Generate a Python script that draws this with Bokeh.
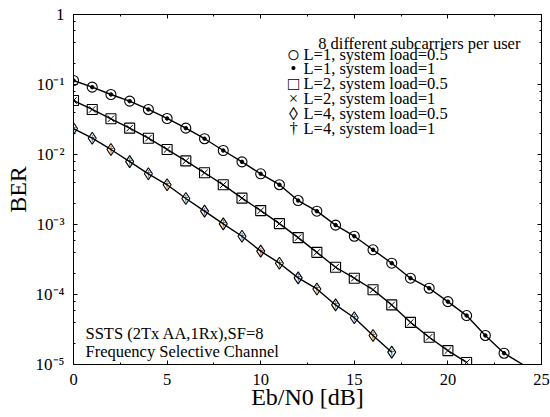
from bokeh.plotting import figure
from bokeh.models import (LinearAxis, LogAxis, Label,
                          CustomJSTickFormatter, SingleIntervalTicker, LogTicker,
                          Range1d, ColumnDataSource)
from bokeh.core.properties import value
from bokeh.embed import file_html
from bokeh.resources import INLINE

FONT = "Liberation Serif"

# ---------------- data ----------------
ebn0_L1 = list(range(0, 24))
ber_L1_load05 = [0.114, 0.0916, 0.072, 0.0578, 0.044, 0.0327, 0.0238, 0.0168,
                 0.0114, 0.00785, 0.0053, 0.0037, 0.0022, 0.00155, 9.8e-4, 6.8e-4,
                 4.35e-4, 2.8e-4, 1.71e-4, 1.23e-4, 7.9e-5, 5.0e-5, 2.6e-5, 1.45e-5]
ber_L1_load1 = list(ber_L1_load05)
ebn0_L1_curve = ebn0_L1 + [24]
ber_L1_curve = ber_L1_load05 + [1.0e-5]

ebn0_L2 = list(range(0, 22))
ber_L2_load05 = [0.059, 0.044, 0.0324, 0.0238, 0.0171, 0.0118, 0.0081, 0.00548,
                 0.00369, 0.00238, 0.00158, 1.03e-3, 6.5e-4, 4.0e-4, 2.45e-4,
                 1.71e-4, 1.17e-4, 7.1e-5, 4.0e-5, 2.45e-5, 1.58e-5, 1.07e-5]
ber_L2_load1 = list(ber_L2_load05)

ebn0_L4 = list(range(0, 18))
ber_L4_load05 = [0.0235, 0.0171, 0.0118, 0.0079, 0.0053, 0.00369, 0.00235,
                 0.00155, 1.02e-3, 6.8e-4, 4.16e-4, 2.8e-4, 1.73e-4, 1.2e-4,
                 7.1e-5, 4.65e-5, 2.6e-5, 1.5e-5]
ber_L4_load1 = list(ber_L4_load05)

labels = ["L=1, system load=0.5", "L=1, system load=1",
          "L=2, system load=0.5", "L=2, system load=1",
          "L=4, system load=0.5", "L=4, system load=1"]
legend_symbols = ["\u25cb", "\u2022", "\u25a1", "\u00d7", "\u25ca", "\u2020"]
legend_symbol_sizes = ["23px", "16.5px", "18.5px", "16.5px", "18px", "16.5px"]
legend_title = "8 different subcarriers per user"
note_lines = ["SSTS (2Tx AA,1Rx),SF=8", "Frequency Selective Channel"]
x_label = "Eb/N0 [dB]"
y_label = "BER"

# ---------------- figure ----------------
p = figure(width=550, height=417, y_axis_type="log",
           x_range=Range1d(0, 25), y_range=Range1d(1e-5, 1),
           output_backend="svg", toolbar_location=None,
           min_border_left=73, min_border_right=9,
           min_border_top=14, min_border_bottom=53)
p.xgrid.visible = False
p.ygrid.visible = False
p.outline_line_color = "black"
p.outline_line_width = 1
p.background_fill_color = "white"
p.border_fill_color = "white"

sup_code = """
const e = Math.round(Math.log10(tick));
if (e === 0) return "1";
const sup = {"-":"\u207b","0":"\u2070","1":"\u00b9","2":"\u00b2","3":"\u00b3",
             "4":"\u2074","5":"\u2075","6":"\u2076","7":"\u2077","8":"\u2078","9":"\u2079"};
return "10" + String(e).split("").map(c => sup[c]).join("");
"""
blank = CustomJSTickFormatter(code='return "";')


def style_axis(ax):
    ax.axis_line_color = "black"
    ax.major_tick_in = 4
    ax.major_tick_out = 0
    ax.minor_tick_in = 2
    ax.minor_tick_out = 0
    ax.major_tick_line_color = "black"
    ax.minor_tick_line_color = "black"
    ax.major_label_text_font = FONT
    ax.major_label_text_font_size = "16.5px"
    ax.major_label_text_color = "black"
    ax.axis_label_text_font = FONT
    ax.axis_label_text_font_style = "normal"
    ax.axis_label_text_font_size = "24px"
    ax.axis_label_text_color = "black"


xa = p.xaxis[0]
xa.ticker = SingleIntervalTicker(interval=5, num_minor_ticks=2)
style_axis(xa)
xa.major_label_standoff = 9
xa.axis_label = x_label
xa.axis_label_standoff = -4

ya = p.yaxis[0]
ya.ticker = LogTicker(desired_num_ticks=6)
ya.formatter = CustomJSTickFormatter(code=sup_code)
style_axis(ya)
ya.major_label_text_font_size = "17px"
ya.major_label_standoff = 9
ya.axis_label = y_label
ya.axis_label_standoff = 2

top = LinearAxis(ticker=SingleIntervalTicker(interval=5, num_minor_ticks=2), formatter=blank)
style_axis(top)
top.major_label_standoff = 0
top.major_label_text_font_size = "0px"
p.add_layout(top, "above")
right = LogAxis(ticker=LogTicker(desired_num_ticks=6), formatter=blank)
style_axis(right)
right.major_label_standoff = 0
right.major_label_text_font_size = "0px"
p.add_layout(right, "right")

# ---------------- curves ----------------
LW = 1.4
p.line(ebn0_L1_curve, ber_L1_curve, line_color="black", line_width=LW)
p.line(ebn0_L2, ber_L2_load05, line_color="black", line_width=LW)
p.line(ebn0_L4, ber_L4_load05, line_color="black", line_width=LW)

p.scatter(ebn0_L1, ber_L1_load05, marker="circle", size=10,
          fill_alpha=0, line_color="black", line_width=1.1)
p.scatter(ebn0_L1, ber_L1_load1, marker="circle", size=3.5,
          fill_color="black", line_color="black")
p.scatter(ebn0_L2, ber_L2_load05, marker="square", size=10,
          fill_alpha=0, line_color="black", line_width=1.1)
p.scatter(ebn0_L2, ber_L2_load1, marker="x", size=9,
          line_color="black", line_width=1)
p.scatter(ebn0_L4, ber_L4_load05, marker="diamond", size=12,
          fill_alpha=0, line_color="black", line_width=1.1)
dag_src = ColumnDataSource(dict(x=ebn0_L4, y=ber_L4_load1,
                                t=["\u2020"] * len(ebn0_L4)))
p.text("x", "y", text="t", source=dag_src, text_align="center",
       text_baseline="middle", text_font=value(FONT),
       text_font_size="10px", text_color="black")

# ---------------- legend (text annotations, frame screen units) ----------------
SYM_X, TXT_X, ROW0_Y, ROW_H = 220, 230, 310.5, 14.95
for i, (s, fs, lab) in enumerate(zip(legend_symbols, legend_symbol_sizes, labels)):
    y = ROW0_Y - i * ROW_H
    p.add_layout(Label(x=SYM_X, y=y, x_units="screen", y_units="screen", text=s,
                       text_font=FONT, text_font_size=fs,
                       text_align="center", text_baseline="middle",
                       text_color="black"))
    p.add_layout(Label(x=TXT_X, y=y, x_units="screen", y_units="screen", text=lab,
                       text_font=FONT, text_font_size="16.5px",
                       text_align="left", text_baseline="middle",
                       text_color="black"))

p.add_layout(Label(x=244.7, y=320.7, x_units="screen", y_units="screen",
                   text=legend_title, text_font=FONT, text_font_size="16.5px",
                   text_baseline="alphabetic", text_color="black"))

p.add_layout(Label(x=12, y=31, x_units="screen", y_units="screen",
                   text=note_lines[0], text_font=FONT, text_font_size="16.5px",
                   text_baseline="alphabetic", text_color="black"))
p.add_layout(Label(x=12, y=13, x_units="screen", y_units="screen",
                   text=note_lines[1], text_font=FONT, text_font_size="16.5px",
                   text_baseline="alphabetic", text_color="black"))

open("out.html", "w").write(file_html(p, INLINE))
